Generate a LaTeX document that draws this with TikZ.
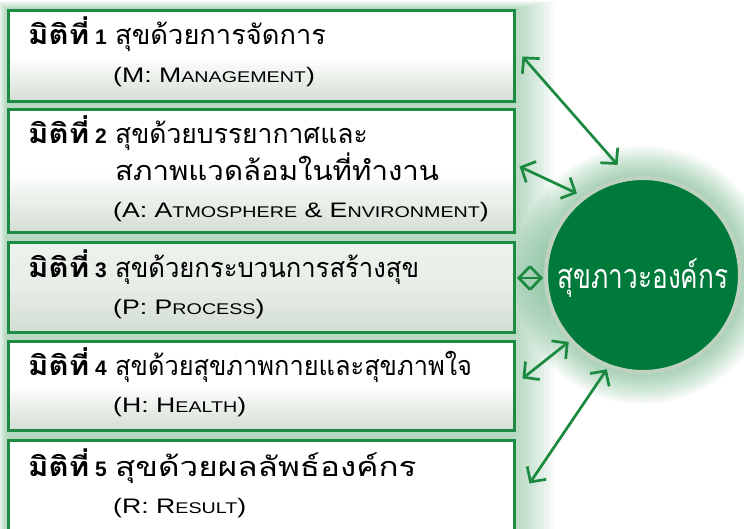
\documentclass[tikz,border=0pt]{standalone}
\usepackage{fontspec}
\setmainfont{Liberation Sans}
\newfontfamily\thai[Script=Thai]{Loma}
\newfontfamily\lat{Liberation Sans}[FakeStretch=1.27]
\usetikzlibrary{arrows.meta,calc}
\definecolor{gborder}{HTML}{1E8B45}
\definecolor{garrow}{HTML}{1B8A40}
\definecolor{gcirc}{HTML}{007A3B}
\definecolor{gring}{HTML}{BFD2BF}
\definecolor{gglow}{HTML}{3E9E62}
\definecolor{bshade}{HTML}{D3DED3}
\newcommand\smc[1]{{\fontsize{15.5pt}{15.5pt}\selectfont #1}}
\newcommand\thx[2]{{\thai\addfontfeature{FakeStretch=#1}#2}}
\tikzset{
  box/.style={draw=gborder, line width=3pt, rectangle, inner sep=0pt, anchor=north west,
     minimum width=506pt, top color=white, bottom color=bshade, middle color=white},
  lab/.style={anchor=base west, inner sep=0pt, font=\fontsize{27pt}{27pt}\selectfont},
  eng/.style={anchor=base west, inner sep=0pt, font=\fontsize{21pt}{21pt}\selectfont\lat},
  hd/.style={anchor=base west, inner sep=0pt, font=\fontsize{27pt}{27pt}\selectfont\bfseries},
  num/.style={anchor=base west, inner sep=0pt, font=\fontsize{21pt}{21pt}\selectfont\bfseries},
  arr/.style={draw=garrow, line width=2.7pt,
     {Straight Barb[length=11pt,width=23pt]}-{Straight Barb[length=11pt,width=23pt]}},
}
\begin{document}
\begin{tikzpicture}[x=1pt,y=-1pt]
\useasboundingbox (0,0) rectangle (744,529);
\fill[white] (0,0) rectangle (744,529);
% glow behind boxes
\foreach \i in {1,...,12}{
  \fill[gglow, opacity=0.035] (6.5-0.7*\i,9.5-0.7*\i) rectangle (512.5+3.5*\i,545);
}
% glow behind circle
\foreach \i in {1,...,10}{
  \fill[gglow, opacity=0.05] (643,275) circle (99+3*\i);
}
% boxes
\node[box, minimum height=91pt] (b1) at (6.5,9.5) {};
\node[box, minimum height=123pt] (b2) at (6.5,108.5) {};
\node[box, minimum height=89pt, top color=bshade!40, bottom color=bshade, middle color=bshade!55] (b3) at (6.5,241.5) {};
\node[box, minimum height=89pt] (b4) at (6.5,339.5) {};
\node[box, minimum height=101pt, top color=white, bottom color=white] (b5) at (6.5,438.5) {};
% texts
\node[hd] (h1) at (28,45) {\thx{1.15}{มิติที่}};
\node[num] (n1) at (95,45) {1};
\node[lab] (t1) at (115,45) {\thx{1.01}{สุขด้วยการจัดการ}};
\node[eng] (e1) at (113,83) {(M: M\smc{ANAGEMENT})};
\node[hd] (h2) at (28,144) {\thx{1.15}{มิติที่}};
\node[num] (n2) at (95,144) {2};
\node[lab] (t2) at (115,144) {\thx{0.98}{สุขด้วยบรรยากาศและ}};
\node[lab] (t2b) at (115,181) {\thx{1.09}{สภาพแวดล้อมในที่ทำงาน}};
\node[eng] (e2) at (113,218) {(A: A\smc{TMOSPHERE} \& E\smc{NVIRONMENT})};
\node[hd] (h3) at (28,277) {\thx{1.15}{มิติที่}};
\node[num] (n3) at (95,277) {3};
\node[lab] (t3) at (115,277) {\thx{0.95}{สุขด้วยกระบวนการสร้างสุข}};
\node[eng] (e3) at (113,314) {(P: P\smc{ROCESS})};
\node[hd] (h4) at (28,375) {\thx{1.15}{มิติที่}};
\node[num] (n4) at (95,375) {4};
\node[lab] (t4) at (115,375) {\thx{0.94}{สุขด้วยสุขภาพกายและสุขภาพใจ}};
\node[eng] (e4) at (113,412) {(H: H\smc{EALTH})};
\node[hd] (h5) at (28,476) {\thx{1.15}{มิติที่}};
\node[num] (n5) at (95,476) {5};
\node[lab] (t5) at (115,476) {\thx{1.23}{สุขด้วยผลลัพธ์องค์กร}};
\node[eng] (e5) at (113,513) {(R: R\smc{ESULT})};
% circle
\node[circle, draw=gring, line width=4pt, fill=gcirc, minimum size=194pt, inner sep=0pt] (circ) at (643,275) {};
\node[anchor=base, inner sep=0pt, text=white, font=\fontsize{34pt}{34pt}\selectfont] (ct) at (643,288) {\thx{0.77}{สุขภาวะองค์กร}};
% arrow end points
\coordinate (s1) at ($(b1.east)+(7,0)$);
\coordinate (s2) at ($(b2.east)+(4,-5)$);
\coordinate (s4) at ($(b4.east)+(7,-7)$);
\coordinate (s5) at ($(b5.east)+(14,-7)$);
\coordinate (c1) at ($(circ.center)!113pt!(circ.103)$);
\coordinate (c2) at ($(circ.center)!105pt!(circ.129)$);
\coordinate (c4) at ($(circ.center)!100pt!(circ.222)$);
\coordinate (c5) at ($(circ.center)!101pt!(circ.249)$);
\coordinate (d1) at (517,278);
\coordinate (d2) at (543,278);
\draw[arr] (s1) -- (c1);
\draw[arr] (s2) -- (c2);
\draw[arr] (d1) -- (d2);
\draw[arr] (s4) -- (c4);
\draw[arr] (s5) -- (c5);
\end{tikzpicture}
\end{document}
